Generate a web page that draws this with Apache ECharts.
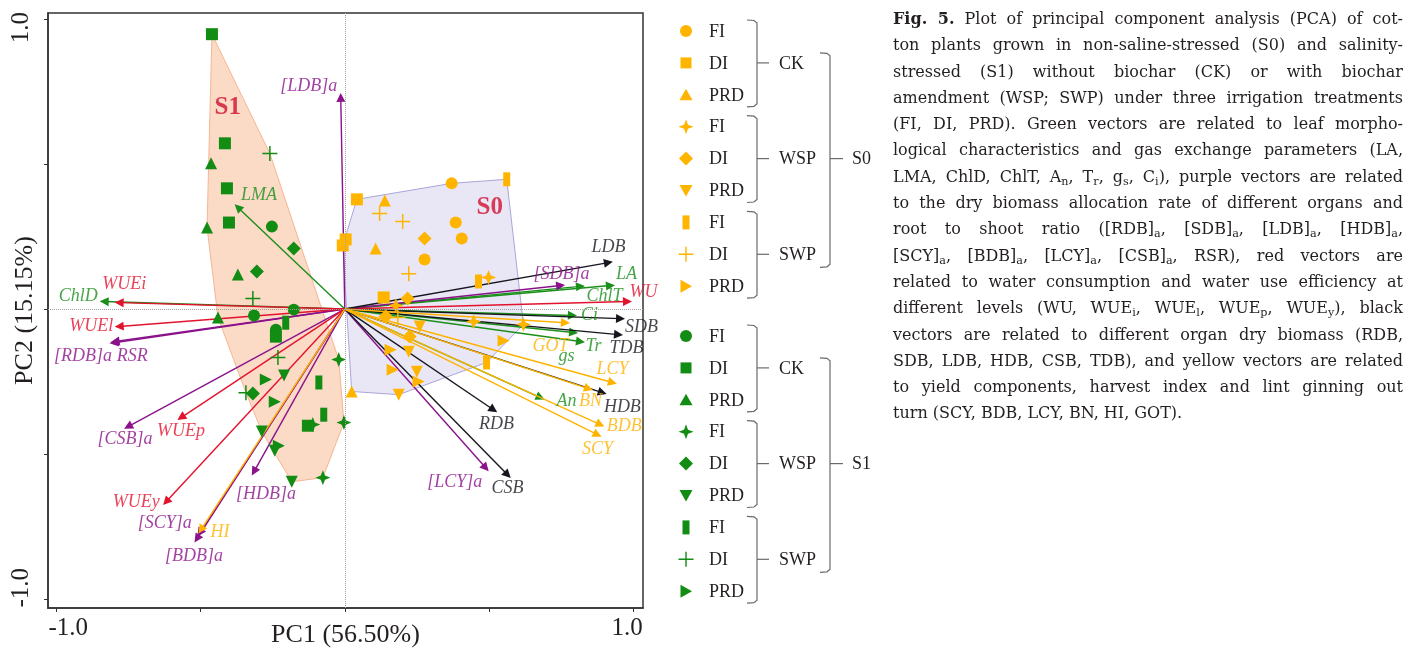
<!DOCTYPE html>
<html>
<head>
<meta charset="utf-8">
<script src="https://cdn.jsdelivr.net/npm/echarts@6/dist/echarts.min.js"></script>
<style>
html, body { margin: 0; padding: 0; background: #fff; }
#chart { position: absolute; left: 0; top: 0; width: 1413px; height: 651px; }
#caption {
  position: absolute; left: 893px; top: 6px; width: 510px;
  font-family: "DejaVu Serif"; font-size: 14px; line-height: 26.3px; color: #231f20;
}
#caption div { text-align: justify; text-align-last: justify; height: 26.3px; overflow: visible; }
#caption div.last { text-align-last: left; }
#caption sub { font-size: 70%; vertical-align: -0.25em; line-height: 0; }
</style>
</head>
<body>
<div id="chart"></div>
<div id="caption">
  <div><b>Fig. 5.</b> Plot of principal component analysis (PCA) of cot-</div>
  <div>ton plants grown in non-saline-stressed (S0) and salinity-</div>
  <div>stressed (S1) without biochar (CK) or with biochar</div>
  <div>amendment (WSP; SWP) under three irrigation treatments</div>
  <div>(FI, DI, PRD). Green vectors are related to leaf morpho-</div>
  <div>logical characteristics and gas exchange parameters (LA,</div>
  <div>LMA, ChlD, ChlT, A<sub>n</sub>, T<sub>r</sub>, g<sub>s</sub>, C<sub>i</sub>), purple vectors are related</div>
  <div>to the dry biomass allocation rate of different organs and</div>
  <div>root to shoot ratio ([RDB]<sub>a</sub>, [SDB]<sub>a</sub>, [LDB]<sub>a</sub>, [HDB]<sub>a</sub>,</div>
  <div>[SCY]<sub>a</sub>, [BDB]<sub>a</sub>, [LCY]<sub>a</sub>, [CSB]<sub>a</sub>, RSR), red vectors are</div>
  <div>related to water consumption and water use efficiency at</div>
  <div>different levels (WU, WUE<sub>i</sub>, WUE<sub>l</sub>, WUE<sub>p</sub>, WUE<sub>y</sub>), black</div>
  <div>vectors are related to different organ dry biomass (RDB,</div>
  <div>SDB, LDB, HDB, CSB, TDB), and yellow vectors are related</div>
  <div>to yield components, harvest index and lint ginning out</div>
  <div class="last">turn (SCY, BDB, LCY, BN, HI, GOT).</div>
</div>
<script>
// group names
var treatments = ['FI', 'DI', 'PRD'];
var amendments = ['CK', 'WSP', 'SWP'];
var salinity = ['S0', 'S1'];

// scores, S0 (non-saline)
var s0CkFi = [[0.371, 0.433], [0.385, 0.298], [0.406, 0.243], [0.277, 0.171]];
var s0CkDi = [[0.042, 0.378], [0.003, 0.240], [-0.007, 0.219], [0.135, 0.040]];
var s0CkPrd = [[0.139, 0.374], [0.107, 0.209], [0.024, -0.284]];
var s0WspFi = [[0.499, 0.109], [0.177, 0.012], [0.447, -0.043], [0.620, -0.053]];
var s0WspDi = [[0.277, 0.243], [0.218, 0.036], [0.142, -0.026], [0.225, -0.095]];
var s0WspPrd = [[0.260, -0.060], [0.222, -0.147], [0.250, -0.216], [0.187, -0.295]];
var s0SwpFi = [[0.562, 0.447], [0.464, 0.095], [0.492, -0.184]];
var s0SwpDi = [[0.121, 0.329], [0.201, 0.302], [0.222, 0.122], [0.184, -0.029]];
var s0SwpPrd = [[0.551, -0.109], [0.159, -0.140], [0.166, -0.209], [0.256, -0.250]];

// scores, S1 (salinity)
var s1CkFi = [[-0.253, 0.284], [-0.177, -0.002], [-0.315, -0.022], [-0.239, -0.071]];
var s1CkDi = [[-0.461, 0.947], [-0.416, 0.571], [-0.409, 0.416], [-0.402, 0.298], [-0.128, -0.402], [-0.239, -0.095]];
var s1CkPrd = [[-0.464, 0.502], [-0.478, 0.281], [-0.371, 0.119], [-0.440, -0.029]];
var s1WspFi = [[-0.021, -0.174], [-0.111, -0.398], [-0.003, -0.391], [-0.076, -0.581]];
var s1WspDi = [[-0.177, 0.209], [-0.305, 0.129], [-0.319, -0.291]];
var s1WspPrd = [[-0.211, -0.229], [-0.288, -0.422], [-0.243, -0.488], [-0.184, -0.595]];
var s1SwpFi = [[-0.205, -0.047], [-0.090, -0.253], [-0.073, -0.364]];
var s1SwpDi = [[-0.260, 0.536], [-0.319, 0.036], [-0.232, -0.167], [-0.343, -0.288]];
var s1SwpPrd = [[-0.274, -0.243], [-0.243, -0.319], [-0.229, -0.471]];

// loadings (vectors)
var greenNames = ['LA', 'LMA', 'ChlD', 'ChlT', 'An', 'Tr', 'gs', 'Ci'];
var greenLoad = [[0.922, 0.081], [-0.371, 0.350], [-0.835, 0.026], [0.818, 0.078], [0.679, -0.305], [0.818, -0.112], [0.794, -0.081], [0.790, -0.022]];
var purpleNames = ['[RDB]a', '[SDB]a', '[LDB]a', '[HDB]a', '[SCY]a', '[BDB]a', '[LCY]a', '[CSB]a', 'RSR'];
var purpleLoad = [[-0.801, -0.116], [0.749, 0.081], [-0.014, 0.729], [-0.315, -0.560], [-0.503, -0.771], [-0.513, -0.791], [0.489, -0.547], [-0.752, -0.405], [-0.797, -0.112]];
var redNames = ['WU', 'WUEi', 'WUEl', 'WUEp', 'WUEy'];
var redLoad = [[0.981, 0.026], [-0.783, 0.022], [-0.783, -0.060], [-0.568, -0.374], [-0.620, -0.664]];
var blackNames = ['RDB', 'SDB', 'LDB', 'HDB', 'CSB', 'TDB'];
var blackLoad = [[0.516, -0.347], [0.957, -0.033], [0.915, 0.160], [0.894, -0.288], [0.565, -0.571], [0.950, -0.088]];
var yellowNames = ['SCY', 'BDB', 'LCY', 'BN', 'HI', 'GOT'];
var yellowLoad = [[0.877, -0.433], [0.887, -0.398], [0.929, -0.253], [0.846, -0.274], [-0.499, -0.760], [0.766, -0.047]];

// axis ticks and where the end labels sit
var tickValues = [-1, -0.5, 0, 0.5, 1];
var xLabelAt = [-0.96, 0.98];
var yLabelAt = [-0.96, 0.97];

// group label anchors
var groupLabelPos = [[0.503, 0.35], [-0.406, 0.695]];

// layout of vector labels (pixel offset from the arrow tip)
var labelOffset = {
  'LA': [16, -11], 'LMA': [21, -12], 'ChlD': [-26, -5], 'ChlT': [24, 10], 'An': [26, 4], 'Tr': [13, 5], 'gs': [-7, 24], 'Ci': [17, 0],
  '[RDB]a': [-31, 14], '[SDB]a': [1, -11], '[LDB]a': [-32, -11], '[HDB]a': [12, 23], '[SCY]a': [-35, -10], '[BDB]a': [-3, 18],
  '[LCY]a': [-31, 14], '[CSB]a': [-3, 13], 'RSR': [17, 15],
  'WU': [16, -9], 'WUEi': [5, -18], 'WUEl': [-28, 0], 'WUEp': [0, 14], 'WUEy': [-30, 0],
  'RDB': [3, 15], 'SDB': [21, 9], 'LDB': [0, -15], 'HDB': [20, 15], 'CSB': [0, 13], 'TDB': [8, 14],
  'SCY': [0, 15], 'BDB': [24, 2], 'LCY': [0, -13], 'BN': [2, 13], 'HI': [19, 3], 'GOT': [-15, 24]
};

var ORANGE = '#ffb400';
var GREEN = '#128c12';
var SERIF = '"Liberation Serif", "Times New Roman", serif';
var vecColors = { green: '#1a8f1a', purple: '#8b128b', red: '#e3122d', black: '#16161e', yellow: '#ffb300' };

var STAR = 'path://M0,-7L2,-2L7,0L2,2L0,7L-2,2L-7,0L-2,-2Z';
var PLUS = 'path://M-0.7,-7L0.7,-7L0.7,-0.7L7,-0.7L7,0.7L0.7,0.7L0.7,7L-0.7,7L-0.7,0.7L-7,0.7L-7,-0.7L-0.7,-0.7Z';
var shapes = {
  'CK-FI': { symbol: 'circle', size: 12, rotate: 0 },
  'CK-DI': { symbol: 'rect', size: 12, rotate: 0 },
  'CK-PRD': { symbol: 'triangle', size: 12, rotate: 0 },
  'WSP-FI': { symbol: STAR, size: 15, rotate: 0 },
  'WSP-DI': { symbol: 'diamond', size: 14, rotate: 0 },
  'WSP-PRD': { symbol: 'triangle', size: 12, rotate: 180 },
  'SWP-FI': { symbol: 'rect', size: [7, 14], rotate: 0 },
  'SWP-DI': { symbol: PLUS, size: 15, rotate: 0 },
  'SWP-PRD': { symbol: 'triangle', size: 12, rotate: -90 }
};

var scores = {
  S0: [[s0CkFi, s0CkDi, s0CkPrd], [s0WspFi, s0WspDi, s0WspPrd], [s0SwpFi, s0SwpDi, s0SwpPrd]],
  S1: [[s1CkFi, s1CkDi, s1CkPrd], [s1WspFi, s1WspDi, s1WspPrd], [s1SwpFi, s1SwpDi, s1SwpPrd]]
};

function convexHull(pts) {
  var p = pts.slice().sort(function (a, b) { return a[0] - b[0] || a[1] - b[1]; });
  function cross(o, a, b) { return (a[0] - o[0]) * (b[1] - o[1]) - (a[1] - o[1]) * (b[0] - o[0]); }
  var lower = [], upper = [];
  p.forEach(function (q) {
    while (lower.length >= 2 && cross(lower[lower.length - 2], lower[lower.length - 1], q) <= 0) lower.pop();
    lower.push(q);
  });
  p.slice().reverse().forEach(function (q) {
    while (upper.length >= 2 && cross(upper[upper.length - 2], upper[upper.length - 1], q) <= 0) upper.pop();
    upper.push(q);
  });
  upper.pop(); lower.pop();
  return lower.concat(upper);
}

function flatten(groups) {
  var out = [];
  groups.forEach(function (g) { g.forEach(function (arr) { out = out.concat(arr); }); });
  return out;
}

var hulls = {
  S0: { pts: convexHull(flatten(scores.S0)), fill: '#e9e7f5', stroke: '#aba6d8' },
  S1: { pts: convexHull(flatten(scores.S1)), fill: '#fbdac6', stroke: '#f6b693' }
};

var series = [];

// hull polygons
salinity.forEach(function (s) {
  var h = hulls[s];
  series.push({
    type: 'custom', coordinateSystem: 'cartesian2d', z: 1, silent: true,
    data: [[0, 0]],
    renderItem: function (params, api) {
      return {
        type: 'polygon',
        shape: { points: h.pts.map(function (p) { return api.coord(p); }) },
        style: { fill: h.fill, stroke: h.stroke, lineWidth: 1 }
      };
    },
    markLine: s === 'S0' ? {
      silent: true, symbol: ['none', 'none'], label: { show: false },
      lineStyle: { type: 'dotted', color: '#a0a0a0', width: 1 },
      data: [{ xAxis: 0 }, { yAxis: 0 }]
    } : undefined
  });
});

// vectors
var vecGroups = [
  ['green', greenNames, greenLoad], ['purple', purpleNames, purpleLoad], ['red', redNames, redLoad],
  ['black', blackNames, blackLoad], ['yellow', yellowNames, yellowLoad]
];
var labelData = [];
vecGroups.forEach(function (g) {
  var color = vecColors[g[0]];
  series.push({
    type: 'lines', coordinateSystem: 'cartesian2d', z: 2, silent: true,
    symbol: ['none', 'triangle'], symbolSize: 9,
    lineStyle: { color: color, width: 1.4, opacity: 1 },
    data: g[2].map(function (v) { return { coords: [[0, 0], v] }; })
  });
  g[1].forEach(function (name, i) {
    labelData.push({
      name: name, value: g[2][i],
      label: { offset: labelOffset[name] || [0, 0], color: color }
    });
  });
});

// points
salinity.forEach(function (s) {
  var color = s === 'S0' ? ORANGE : GREEN;
  amendments.forEach(function (a, ai) {
    treatments.forEach(function (t, ti) {
      var sh = shapes[a + '-' + t];
      series.push({
        type: 'scatter', z: 3, name: s + ' ' + a + ' ' + t,
        symbol: sh.symbol, symbolSize: sh.size, symbolRotate: sh.rotate,
        itemStyle: { color: color, opacity: 1 },
        data: scores[s][ai][ti]
      });
    });
  });
});

// vector labels
series.push({
  type: 'scatter', z: 4, silent: true,
  symbolSize: 0.1, itemStyle: { color: 'transparent' },
  label: {
    show: true, position: 'inside', formatter: '{b}',
    fontFamily: SERIF, fontStyle: 'italic', fontSize: 18,
    textBorderWidth: 0, textBorderColor: 'transparent'
  },
  data: labelData
});

// S0 / S1 group labels
series.push({
  type: 'scatter', z: 4, silent: true,
  symbolSize: 0.1, itemStyle: { color: 'transparent' },
  label: {
    show: true, position: 'inside', formatter: '{b}',
    fontFamily: SERIF, fontWeight: 'bold', fontSize: 25, color: '#d1102f',
    textBorderWidth: 0, textBorderColor: 'transparent'
  },
  data: salinity.map(function (s, i) { return { name: s, value: groupLabelPos[i] }; })
});

// legend with braces
var graphics = [];
function marker(key, cx, cy, color) {
  var st = { fill: color };
  switch (key) {
    case 'CK-FI': return { type: 'circle', shape: { cx: cx, cy: cy, r: 6 }, style: st };
    case 'CK-DI': return { type: 'rect', shape: { x: cx - 5.5, y: cy - 5.5, width: 11, height: 11 }, style: st };
    case 'CK-PRD': return { type: 'polygon', shape: { points: [[cx, cy - 6], [cx + 6.5, cy + 5.5], [cx - 6.5, cy + 5.5]] }, style: st };
    case 'WSP-FI': return { type: 'polygon', shape: { points: [[cx, cy - 7.5], [cx + 2, cy - 2], [cx + 7.5, cy], [cx + 2, cy + 2], [cx, cy + 7.5], [cx - 2, cy + 2], [cx - 7.5, cy], [cx - 2, cy - 2]] }, style: st };
    case 'WSP-DI': return { type: 'polygon', shape: { points: [[cx, cy - 7], [cx + 7, cy], [cx, cy + 7], [cx - 7, cy]] }, style: st };
    case 'WSP-PRD': return { type: 'polygon', shape: { points: [[cx - 6.5, cy - 5.5], [cx + 6.5, cy - 5.5], [cx, cy + 6]] }, style: st };
    case 'SWP-FI': return { type: 'rect', shape: { x: cx - 3.5, y: cy - 7, width: 7, height: 14 }, style: st };
    case 'SWP-DI': return { type: 'polygon', shape: { points: [[cx - 0.7, cy - 7.5], [cx + 0.7, cy - 7.5], [cx + 0.7, cy - 0.7], [cx + 7.5, cy - 0.7], [cx + 7.5, cy + 0.7], [cx + 0.7, cy + 0.7], [cx + 0.7, cy + 7.5], [cx - 0.7, cy + 7.5], [cx - 0.7, cy + 0.7], [cx - 7.5, cy + 0.7], [cx - 7.5, cy - 0.7], [cx - 0.7, cy - 0.7]] }, style: st };
    default: return { type: 'polygon', shape: { points: [[cx - 5.5, cy - 6.5], [cx + 6, cy], [cx - 5.5, cy + 6.5]] }, style: st };
  }
}
function txt(x, y, s) {
  return { type: 'text', x: x, y: y, style: { text: s, font: '18px ' + SERIF, fill: '#231f20', verticalAlign: 'middle' } };
}
function brace(x, top, bot, mid, hook, tick) {
  var ln = { stroke: '#6a6a6a', lineWidth: 1.2, fill: null };
  graphics.push({ type: 'polyline', shape: { points: [[x - hook, top], [x - 3, top + 0.5], [x, top + 3], [x, bot - 3], [x - 3, bot - 0.5], [x - hook, bot]] }, style: ln });
  graphics.push({ type: 'polyline', shape: { points: [[x, mid], [x + tick, mid]] }, style: ln });
}
salinity.forEach(function (s, si) {
  var color = si === 0 ? ORANGE : GREEN;
  var baseY = si === 0 ? 31 : 336;
  var step = 31.9;
  var mids = [];
  amendments.forEach(function (a, ai) {
    var ys = treatments.map(function (t, ti) { return baseY + (ai * 3 + ti) * step; });
    treatments.forEach(function (t, ti) {
      graphics.push(marker(a + '-' + t, 686, ys[ti], color));
      graphics.push(txt(709, ys[ti] + 1, t));
    });
    brace(757, ys[0] - 11, ys[2] + 12, ys[1], 10, 12);
    graphics.push(txt(779, ys[1] + 1, a));
    mids.push(ys[1]);
  });
  brace(830, mids[0] - 10, mids[2] + 13, mids[1], 10, 13);
  graphics.push(txt(852, mids[1] + 1, s));
});

var axisFont = { fontFamily: SERIF, fontSize: 25, color: '#231f20' };
var nameFont = { fontFamily: SERIF, fontSize: 26, color: '#231f20' };
function oneDecimal(v) { return v.toFixed(1); }

var option = {
  animation: false,
  backgroundColor: '#fff',
  grid: {
    left: 48, top: 13, right: 770, bottom: 43, show: true, borderColor: '#333', borderWidth: 1.5,
    backgroundColor: 'transparent', containLabel: false, outerBoundsMode: 'none'
  },
  xAxis: {
    type: 'value', min: -1.03, max: 1.035,
    name: 'PC1 (56.50%)', nameLocation: 'middle', nameGap: 14, nameMoveOverlap: false,
    nameTextStyle: nameFont,
    axisLine: { onZero: false, lineStyle: { color: '#333', width: 1.5 } },
    axisTick: { customValues: tickValues, length: 4, lineStyle: { color: '#333' } },
    axisLabel: Object.assign({ customValues: xLabelAt, margin: 8, formatter: oneDecimal }, axisFont),
    splitLine: { show: false }
  },
  yAxis: {
    type: 'value', min: -1.03, max: 1.02,
    name: 'PC2 (15.15%)', nameLocation: 'middle', nameGap: 10, nameMoveOverlap: false,
    nameTextStyle: nameFont,
    axisLine: { onZero: false, lineStyle: { color: '#333', width: 1.5 } },
    axisTick: { customValues: tickValues, length: 4, lineStyle: { color: '#333' } },
    axisLabel: Object.assign({ customValues: yLabelAt, rotate: 90, margin: 14, formatter: oneDecimal }, axisFont),
    splitLine: { show: false }
  },
  graphic: graphics,
  series: series
};

var chart = echarts.init(document.getElementById('chart'), null, { renderer: 'canvas' });
chart.setOption(option);

// fit the caption font so each printed line stays on one line
(function () {
  var cap = document.getElementById('caption');
  var lines = cap.querySelectorAll('div');
  var size = 16;
  function wraps() {
    for (var i = 0; i < lines.length; i++) if (lines[i].getBoundingClientRect().height > 30) return true;
    return false;
  }
  cap.style.fontSize = size + 'px';
  lines.forEach(function (d) { d.style.height = 'auto'; });
  while (wraps() && size > 10) { size -= 0.25; cap.style.fontSize = size + 'px'; }
})();
</script>
</body>
</html>
